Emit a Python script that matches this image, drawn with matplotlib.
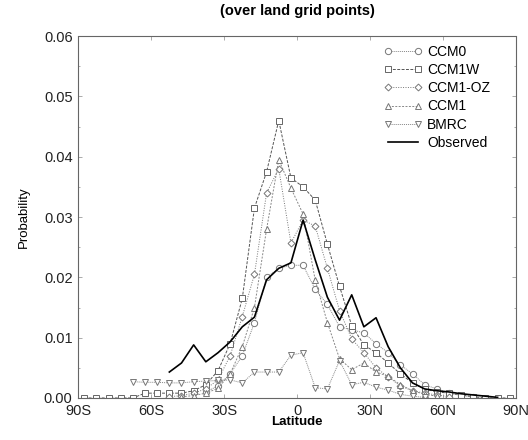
import matplotlib.pyplot as plt
import numpy as np

plt.rcParams['font.family'] = ['Liberation Sans', 'DejaVu Sans']

# latitude grid (5 degree bins)
lat_all = [-87.5, -82.5, -77.5, -72.5, -67.5, -62.5, -57.5, -52.5, -47.5, -42.5,
           -37.5, -32.5, -27.5, -22.5, -17.5, -12.5, -7.5, -2.5, 2.5, 7.5,
           12.5, 17.5, 22.5, 27.5, 32.5, 37.5, 42.5, 47.5, 52.5, 57.5,
           62.5, 67.5, 72.5, 77.5, 82.5, 87.5]

lat_ccm0 = lat_all[10:33]
ccm0 = [0.0010, 0.0020, 0.0040, 0.0070, 0.0125, 0.0200, 0.0215, 0.0220, 0.0220, 0.0180,
        0.0155, 0.0118, 0.0113, 0.0108, 0.0090, 0.0075, 0.0055, 0.0040, 0.0022, 0.0015,
        0.0008, 0.0004, 0.0002]

lat_ccm1w = lat_all
ccm1w = [0.0, 0.0, 0.0, 0.0, 0.0, 0.0008, 0.0008, 0.0008, 0.0008, 0.0012,
         0.0022, 0.0045, 0.0090, 0.0165, 0.0315, 0.0375, 0.0460, 0.0365, 0.0350, 0.0328,
         0.0255, 0.0185, 0.0120, 0.0088, 0.0075, 0.0058, 0.0040, 0.0025, 0.0015, 0.0010,
         0.0008, 0.0005, 0.0002, 0.0, 0.0, 0.0]

lat_ccm1oz = lat_all[7:31]
ccm1oz = [0.0002, 0.0004, 0.0008, 0.0015, 0.0030, 0.0070, 0.0135, 0.0205, 0.0340, 0.0380,
          0.0257, 0.0295, 0.0285, 0.0215, 0.0145, 0.0098, 0.0075, 0.0050, 0.0035, 0.0020,
          0.0012, 0.0008, 0.0005, 0.0002]

lat_ccm1 = lat_all[8:30]
ccm1 = [0.0002, 0.0004, 0.0008, 0.0016, 0.0040, 0.0085, 0.0150, 0.0280, 0.0395, 0.0348,
        0.0305, 0.0195, 0.0125, 0.0065, 0.0047, 0.0058, 0.0043, 0.0036, 0.0022, 0.0012,
        0.0006, 0.0003]

lat_bmrc = lat_all[4:29]
bmrc = [0.0027, 0.0026, 0.0026, 0.0025, 0.0025, 0.0027, 0.0028, 0.0029, 0.0030, 0.0025,
        0.0043, 0.0043, 0.0043, 0.0071, 0.0075, 0.0017, 0.0015, 0.0062, 0.0022, 0.0026,
        0.0018, 0.0013, 0.0006, 0.0003, 0.0001]

lat_obs = lat_all[7:35]
obs = [0.0043, 0.0058, 0.0088, 0.0060, 0.0075, 0.0093, 0.0118, 0.0134, 0.0196, 0.0215,
       0.0224, 0.0295, 0.0229, 0.0167, 0.0129, 0.0171, 0.0118, 0.0133, 0.0085, 0.0050,
       0.0025, 0.0015, 0.0012, 0.0010, 0.0007, 0.0005, 0.0003, 0.0001]

xticks = [-90, -60, -30, 0, 30, 60, 90]
xticklabels = ['90S', '60S', '30S', '0', '30N', '60N', '90N']

fig = plt.figure(figsize=(5.28, 4.4), dpi=100)
ax = fig.add_axes([0.148, 0.0955, 0.829, 0.8225])

ms = 4.5
ax.plot(lat_ccm0, ccm0, color='#888888', lw=0.7, ls=(0, (1, 1)), marker='o',
        mfc='white', mec='#777777', ms=ms, mew=0.7, label='CCM0')
ax.plot(lat_ccm1w, ccm1w, color='#555555', lw=0.7, ls=(0, (3, 1.5)), marker='s',
        mfc='white', mec='#666666', ms=ms - 0.5, mew=0.7, label='CCM1W')
ax.plot(lat_ccm1oz, ccm1oz, color='#777777', lw=0.7, ls=(0, (1, 1.5)), marker='D',
        mfc='white', mec='#777777', ms=ms - 1, mew=0.7, label='CCM1-OZ')
ax.plot(lat_ccm1, ccm1, color='#888888', lw=0.7, ls=(0, (2, 1.5)), marker='^',
        mfc='white', mec='#777777', ms=ms, mew=0.7, label='CCM1')
ax.plot(lat_bmrc, bmrc, color='#888888', lw=0.7, ls=(0, (1, 1)), marker='v',
        mfc='white', mec='#777777', ms=ms, mew=0.7, label='BMRC')
ax.plot(lat_obs, obs, color='black', lw=1.2, label='Observed')

ax.set_xlim(-90, 90)
ax.set_ylim(0, 0.06)
ax.set_xticks(xticks)
ax.set_xticklabels(xticklabels)
ax.set_yticks(np.arange(0, 0.061, 0.01))
ax.set_yticklabels(['%.2f' % v for v in np.arange(0, 0.061, 0.01)])
ax.set_yticks(np.arange(0, 0.061, 0.005), minor=True)
ax.tick_params(direction='in', top=True, right=True, length=3, width=0.5,
               labelsize=10.5, colors='#888888', labelcolor='#222222', pad=4)
ax.tick_params(which='minor', direction='in', top=True, right=True, length=1.5,
               width=0.5, colors='#888888')

for s in ax.spines.values():
    s.set_linestyle((0, (1, 1)))
    s.set_linewidth(0.8)
    s.set_color('#666666')

ax.set_xlabel('Latitude', fontsize=9.5, fontweight='bold', labelpad=-1)
ax.set_ylabel('Probability', fontsize=9.5, labelpad=10)
ax.set_title('(over land grid points)', fontsize=10.5, fontweight='bold', pad=15)

ax.legend(loc='upper right', bbox_to_anchor=(0.97, 1.01), frameon=False, fontsize=10,
          numpoints=2, handlelength=2.7, handletextpad=0.4, labelspacing=0.3)

fig.savefig('out.png', dpi=100)
